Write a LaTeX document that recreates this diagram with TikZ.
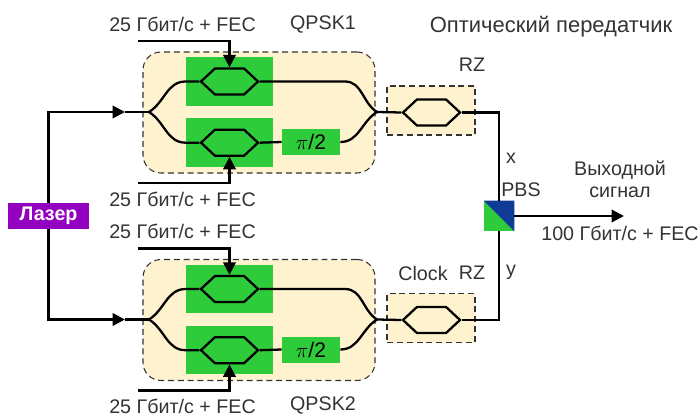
\documentclass[tikz,border=0pt]{standalone}
\usepackage{fontspec}
\setmainfont{Liberation Sans}
\usetikzlibrary{positioning, arrows.meta, shapes.symbols}
\definecolor{cream}{HTML}{FFF3CF}
\definecolor{mzgreen}{HTML}{2ECC3A}
\definecolor{pbsblue}{HTML}{0F3A96}
\definecolor{laserpurple}{HTML}{9400C0}
\definecolor{inkgray}{HTML}{333333}
\tikzset{
    block/.style={draw=inkgray, fill=cream, dash pattern=on 3.4pt off 2.2pt, line width=.6pt, rounded corners=.36cm, minimum width=4.64cm, minimum height=2.42cm},
    rzbox/.style={draw=inkgray, fill=cream, dash pattern=on 3.4pt off 2.2pt, line width=.6pt, minimum width=1.76cm, minimum height=.98cm},
    greenbox/.style={fill=mzgreen, inner sep=0pt, minimum width=1.74cm, minimum height=.97cm},
    phasebox/.style={fill=mzgreen, inner sep=0pt, minimum width=1.16cm, minimum height=.52cm, font=\fontsize{12}{12}\selectfont},
    mzi/.style={draw=black, line width=1.3pt, signal, signal to=east and west, signal pointer angle=86, inner sep=0pt, minimum width=1.14cm, minimum height=.52cm},
    fibre/.style={draw=black, line width=1.3pt},
    label/.style={inner sep=0pt, text=inkgray, font=\fontsize{11.2}{11.2}\selectfont},
    place/.style={inner sep=0pt, outer sep=0pt},
    tip/.style={-{Triangle[length=.25cm, width=.25cm]}}
}
\begin{document}
\begin{tikzpicture}[x=.2mm, y=-.2mm]
  \useasboundingbox (0,0) rectangle (700,415);

  \node(L)[fill=laserpurple, text=white, inner sep=0pt, minimum width=1.62cm, minimum height=.52cm, font=\fontsize{11.2}{11.2}\bfseries\selectfont] at (48.5,216){Лазер};
  \node(P)[fill=mzgreen, inner sep=0pt, minimum size=.6cm] at (499,216){};
  \fill[pbsblue] (P.north west) -- (P.north east) -- (P.south east) -- cycle;

  \foreach \n/\dy in {A/0, B/207.5}{
    \node(\n Q)[block] at (259,112.5+\dy){};
    \node(\n R)[rzbox] at (431,110.5+\dy){};
    \node(\n G1)[greenbox] at (229.5,81.5+\dy){};
    \node(\n G2)[greenbox, below=.24cm of \n G1]{};
    \node(\n H1)[mzi] at (\n G1){};
    \node(\n H2)[mzi] at (\n G2){};
    \node(\n PH)[phasebox] at (311,142+\dy){$\pi$/2};
    \node(\n H3)[mzi] at (431.5,112.5+\dy){};

    \coordinate(\n S) at (149,112+\dy);
    \coordinate(\n J) at (377,112+\dy);
    \coordinate(\n T) at (125,112+\dy);
    \coordinate(\n B) at (345,81.5+\dy);
    \coordinate(\n C1) at (138,41+\dy);
    \coordinate(\n C2) at (138,183+\dy);

    % arms
    \draw[fibre] (\n S) to[out=32, in=180] (\n G1.west) -- (\n H1.west);
    \draw[fibre] (\n S) to[out=-32, in=180] (\n G2.west) -- (\n H2.west);
    \draw[fibre] (\n H1.east) -- (\n B) to[out=0, in=148] (\n J);
    \draw[fibre] (\n H2.east) -- (\n PH.west);
    \draw[fibre] (\n PH.east) to[out=0, in=-148] (\n J);
    \draw[fibre] (\n T) -- (\n S);
    \draw[fibre] (\n J) -- (\n H3.west);

    % drive signals
    \draw[fibre, tip] (\n C1) -| (\n H1.north);
    \draw[fibre, tip] (\n C2) -| (\n H2.south);
    \draw[fibre, tip] (L) |- (\n T);
  }
  \draw[fibre] (AH3.east) -| (P.north);
  \draw[fibre] (BH3.east) -| (P.south);

  \coordinate(O) at (624,216);
  \draw[fibre, tip] (P.east) -- (O);

  \node(D1)[label] at (182.5,24){25 Гбит/с + FEC};
  \node(D2)[label] at (182.5,199.5){25 Гбит/с + FEC};
  \node(D3)[label] at (182.5,231){25 Гбит/с + FEC};
  \node(D4)[label] at (182.5,406){25 Гбит/с + FEC};
  \node(Q1)[label] at (323,24){QPSK1};
  \node(Q2)[label] at (323,405){QPSK2};
  \node(TX)[label, font=\fontsize{12.5}{12.5}\selectfont] at (551,27){Оптический передатчик};
  \node(RZ1)[label] at (472,65){RZ};
  \node(CK)[label] at (423,273){Clock};
  \node(RZ2)[label] at (472,273){RZ};
  \node(X)[label] at (511,158){x};
  \node(Y)[label] at (511,272){y};
  \node(PB)[label] at (521,190){PBS};
  \node(OUT)[label, align=center, font=\fontsize{11.2}{12.6}\selectfont] at (620,179){Выходной\\сигнал};
  \node(RATE)[label] at (620,233){100 Гбит/с + FEC};
\end{tikzpicture}
\end{document}
